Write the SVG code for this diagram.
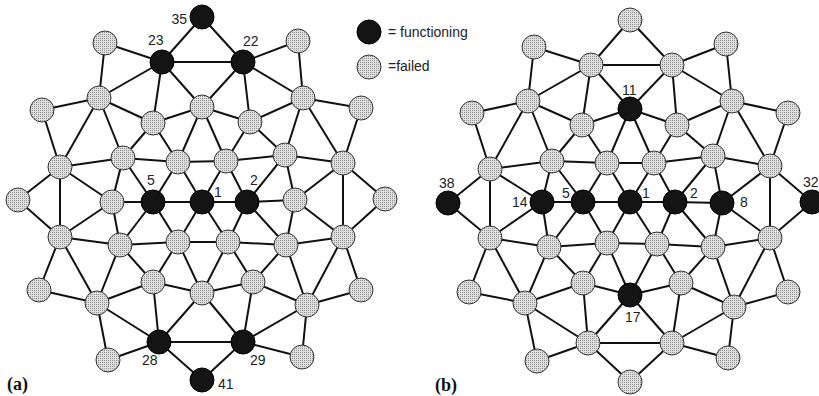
<svg xmlns="http://www.w3.org/2000/svg" width="819" height="396" viewBox="0 0 819 396">
<defs>
<pattern id="dots" width="2" height="2" patternUnits="userSpaceOnUse">
<rect width="2" height="2" fill="#dedede"/>
<rect width="1" height="1" fill="#959595"/>
</pattern>
</defs>
<style>
.e line{stroke:#111;stroke-width:2}
.g{fill:url(#dots);stroke:#333;stroke-width:1}
.b{fill:#141414;stroke:#000;stroke-width:1}
.l{font-family:"Liberation Sans",Arial,sans-serif;font-size:14px;fill:#222}
.p{font-family:"Liberation Serif","Times New Roman",serif;font-size:18px;font-weight:bold;fill:#111}
</style>
<rect width="819" height="396" fill="#fff"/>
<g id="connectors-a" class="e">
<line x1="202" y1="17" x2="162" y2="62"/><line x1="202" y1="17" x2="243" y2="62"/><line x1="162" y1="62" x2="243" y2="62"/><line x1="162" y1="62" x2="105" y2="43"/><line x1="162" y1="62" x2="99" y2="98"/><line x1="162" y1="62" x2="153" y2="123"/><line x1="162" y1="62" x2="202" y2="107"/><line x1="243" y1="62" x2="298" y2="41"/><line x1="243" y1="62" x2="303" y2="98"/><line x1="243" y1="62" x2="250" y2="122"/><line x1="243" y1="62" x2="202" y2="107"/><line x1="105" y1="43" x2="99" y2="98"/><line x1="298" y1="41" x2="303" y2="98"/><line x1="99" y1="98" x2="42" y2="110"/><line x1="99" y1="98" x2="153" y2="123"/><line x1="99" y1="98" x2="60" y2="167"/><line x1="99" y1="98" x2="123" y2="158"/><line x1="202" y1="107" x2="153" y2="123"/><line x1="202" y1="107" x2="250" y2="122"/><line x1="202" y1="107" x2="178" y2="162"/><line x1="202" y1="107" x2="226" y2="161"/><line x1="303" y1="98" x2="250" y2="122"/><line x1="303" y1="98" x2="361" y2="108"/><line x1="303" y1="98" x2="285" y2="155"/><line x1="303" y1="98" x2="343" y2="163"/><line x1="42" y1="110" x2="60" y2="167"/><line x1="361" y1="108" x2="343" y2="163"/><line x1="153" y1="123" x2="123" y2="158"/><line x1="153" y1="123" x2="178" y2="162"/><line x1="250" y1="122" x2="226" y2="161"/><line x1="250" y1="122" x2="285" y2="155"/><line x1="60" y1="167" x2="123" y2="158"/><line x1="123" y1="158" x2="178" y2="162"/><line x1="178" y1="162" x2="226" y2="161"/><line x1="226" y1="161" x2="285" y2="155"/><line x1="285" y1="155" x2="343" y2="163"/><line x1="60" y1="167" x2="18" y2="200"/><line x1="60" y1="167" x2="60" y2="237"/><line x1="60" y1="167" x2="112" y2="202"/><line x1="123" y1="158" x2="112" y2="202"/><line x1="123" y1="158" x2="153" y2="202"/><line x1="178" y1="162" x2="153" y2="202"/><line x1="178" y1="162" x2="202" y2="202"/><line x1="226" y1="161" x2="202" y2="202"/><line x1="226" y1="161" x2="247" y2="202"/><line x1="285" y1="155" x2="247" y2="202"/><line x1="285" y1="155" x2="295" y2="200"/><line x1="343" y1="163" x2="295" y2="200"/><line x1="343" y1="163" x2="385" y2="199"/><line x1="343" y1="163" x2="343" y2="237"/><line x1="18" y1="200" x2="60" y2="237"/><line x1="112" y1="202" x2="60" y2="237"/><line x1="112" y1="202" x2="153" y2="202"/><line x1="153" y1="202" x2="202" y2="202"/><line x1="202" y1="202" x2="247" y2="202"/><line x1="247" y1="202" x2="295" y2="200"/><line x1="295" y1="200" x2="343" y2="237"/><line x1="385" y1="199" x2="343" y2="237"/><line x1="60" y1="237" x2="120" y2="245"/><line x1="60" y1="237" x2="39" y2="290"/><line x1="60" y1="237" x2="97" y2="303"/><line x1="39" y1="290" x2="97" y2="303"/><line x1="112" y1="202" x2="120" y2="245"/><line x1="153" y1="202" x2="120" y2="245"/><line x1="153" y1="202" x2="178" y2="242"/><line x1="202" y1="202" x2="178" y2="242"/><line x1="202" y1="202" x2="228" y2="242"/><line x1="247" y1="202" x2="228" y2="242"/><line x1="247" y1="202" x2="286" y2="245"/><line x1="295" y1="200" x2="286" y2="245"/><line x1="120" y1="245" x2="178" y2="242"/><line x1="178" y1="242" x2="228" y2="242"/><line x1="228" y1="242" x2="286" y2="245"/><line x1="286" y1="245" x2="343" y2="237"/><line x1="120" y1="245" x2="97" y2="303"/><line x1="120" y1="245" x2="153" y2="282"/><line x1="178" y1="242" x2="153" y2="282"/><line x1="178" y1="242" x2="202" y2="293"/><line x1="228" y1="242" x2="202" y2="293"/><line x1="228" y1="242" x2="253" y2="282"/><line x1="286" y1="245" x2="253" y2="282"/><line x1="286" y1="245" x2="307" y2="305"/><line x1="343" y1="237" x2="307" y2="305"/><line x1="343" y1="237" x2="361" y2="290"/><line x1="307" y1="305" x2="361" y2="290"/><line x1="97" y1="303" x2="153" y2="282"/><line x1="153" y1="282" x2="202" y2="293"/><line x1="202" y1="293" x2="253" y2="282"/><line x1="253" y1="282" x2="307" y2="305"/><line x1="153" y1="282" x2="159" y2="342"/><line x1="97" y1="303" x2="159" y2="342"/><line x1="97" y1="303" x2="108" y2="360"/><line x1="108" y1="360" x2="159" y2="342"/><line x1="159" y1="342" x2="202" y2="380"/><line x1="159" y1="342" x2="243" y2="342"/><line x1="159" y1="342" x2="202" y2="293"/><line x1="253" y1="282" x2="243" y2="342"/><line x1="202" y1="293" x2="243" y2="342"/><line x1="307" y1="305" x2="243" y2="342"/><line x1="243" y1="342" x2="302" y2="357"/><line x1="307" y1="305" x2="302" y2="357"/><line x1="243" y1="342" x2="202" y2="380"/>
</g>
<g id="connectors-b" class="e">
<line x1="630" y1="20" x2="591" y2="65"/><line x1="630" y1="20" x2="672" y2="65"/><line x1="591" y1="65" x2="672" y2="65"/><line x1="591" y1="65" x2="534" y2="47"/><line x1="591" y1="65" x2="528" y2="101"/><line x1="591" y1="65" x2="582" y2="125"/><line x1="591" y1="65" x2="630" y2="109"/><line x1="672" y1="65" x2="726" y2="44"/><line x1="672" y1="65" x2="732" y2="101"/><line x1="672" y1="65" x2="677" y2="125"/><line x1="672" y1="65" x2="630" y2="109"/><line x1="534" y1="47" x2="528" y2="101"/><line x1="726" y1="44" x2="732" y2="101"/><line x1="528" y1="101" x2="472" y2="113"/><line x1="528" y1="101" x2="582" y2="125"/><line x1="528" y1="101" x2="490" y2="169"/><line x1="528" y1="101" x2="552" y2="161"/><line x1="630" y1="109" x2="582" y2="125"/><line x1="630" y1="109" x2="677" y2="125"/><line x1="630" y1="109" x2="607" y2="163"/><line x1="630" y1="109" x2="654" y2="163"/><line x1="732" y1="101" x2="677" y2="125"/><line x1="732" y1="101" x2="788" y2="113"/><line x1="732" y1="101" x2="713" y2="156"/><line x1="732" y1="101" x2="770" y2="166"/><line x1="472" y1="113" x2="490" y2="169"/><line x1="788" y1="113" x2="770" y2="166"/><line x1="582" y1="125" x2="552" y2="161"/><line x1="582" y1="125" x2="607" y2="163"/><line x1="677" y1="125" x2="654" y2="163"/><line x1="677" y1="125" x2="713" y2="156"/><line x1="490" y1="169" x2="552" y2="161"/><line x1="552" y1="161" x2="607" y2="163"/><line x1="607" y1="163" x2="654" y2="163"/><line x1="654" y1="163" x2="713" y2="156"/><line x1="713" y1="156" x2="770" y2="166"/><line x1="490" y1="169" x2="448" y2="203"/><line x1="490" y1="169" x2="490" y2="238"/><line x1="490" y1="169" x2="542" y2="202"/><line x1="552" y1="161" x2="542" y2="202"/><line x1="552" y1="161" x2="583" y2="202"/><line x1="607" y1="163" x2="583" y2="202"/><line x1="607" y1="163" x2="630" y2="202"/><line x1="654" y1="163" x2="630" y2="202"/><line x1="654" y1="163" x2="675" y2="202"/><line x1="713" y1="156" x2="675" y2="202"/><line x1="713" y1="156" x2="722" y2="203"/><line x1="770" y1="166" x2="722" y2="203"/><line x1="770" y1="166" x2="812" y2="202"/><line x1="770" y1="166" x2="770" y2="238"/><line x1="448" y1="203" x2="490" y2="238"/><line x1="542" y1="202" x2="490" y2="238"/><line x1="542" y1="202" x2="583" y2="202"/><line x1="583" y1="202" x2="630" y2="202"/><line x1="630" y1="202" x2="675" y2="202"/><line x1="675" y1="202" x2="722" y2="203"/><line x1="722" y1="203" x2="770" y2="238"/><line x1="812" y1="202" x2="770" y2="238"/><line x1="490" y1="238" x2="549" y2="247"/><line x1="490" y1="238" x2="469" y2="292"/><line x1="490" y1="238" x2="525" y2="303"/><line x1="469" y1="292" x2="525" y2="303"/><line x1="542" y1="202" x2="549" y2="247"/><line x1="583" y1="202" x2="549" y2="247"/><line x1="583" y1="202" x2="607" y2="243"/><line x1="630" y1="202" x2="607" y2="243"/><line x1="630" y1="202" x2="657" y2="244"/><line x1="675" y1="202" x2="657" y2="244"/><line x1="675" y1="202" x2="713" y2="247"/><line x1="722" y1="203" x2="713" y2="247"/><line x1="549" y1="247" x2="607" y2="243"/><line x1="607" y1="243" x2="657" y2="244"/><line x1="657" y1="244" x2="713" y2="247"/><line x1="713" y1="247" x2="770" y2="238"/><line x1="549" y1="247" x2="525" y2="303"/><line x1="549" y1="247" x2="583" y2="283"/><line x1="607" y1="243" x2="583" y2="283"/><line x1="607" y1="243" x2="630" y2="295"/><line x1="657" y1="244" x2="630" y2="295"/><line x1="657" y1="244" x2="681" y2="283"/><line x1="713" y1="247" x2="681" y2="283"/><line x1="713" y1="247" x2="734" y2="307"/><line x1="770" y1="238" x2="734" y2="307"/><line x1="770" y1="238" x2="788" y2="292"/><line x1="734" y1="307" x2="788" y2="292"/><line x1="525" y1="303" x2="583" y2="283"/><line x1="583" y1="283" x2="630" y2="295"/><line x1="630" y1="295" x2="681" y2="283"/><line x1="681" y1="283" x2="734" y2="307"/><line x1="583" y1="283" x2="588" y2="343"/><line x1="525" y1="303" x2="588" y2="343"/><line x1="525" y1="303" x2="537" y2="361"/><line x1="537" y1="361" x2="588" y2="343"/><line x1="588" y1="343" x2="630" y2="382"/><line x1="588" y1="343" x2="672" y2="343"/><line x1="588" y1="343" x2="630" y2="295"/><line x1="681" y1="283" x2="672" y2="343"/><line x1="630" y1="295" x2="672" y2="343"/><line x1="734" y1="307" x2="672" y2="343"/><line x1="672" y1="343" x2="728" y2="358"/><line x1="734" y1="307" x2="728" y2="358"/><line x1="672" y1="343" x2="630" y2="382"/>
</g>
<g id="nodes-a">
<g id="a35"><circle class="b" cx="202" cy="17" r="12"/><text class="l" x="187" y="24" text-anchor="end">35</text></g>
<g id="a23"><circle class="b" cx="162" cy="62" r="12"/><text class="l" x="148" y="45">23</text></g>
<g id="a22"><circle class="b" cx="243" cy="62" r="12"/><text class="l" x="243" y="46">22</text></g>
<g id="a-n4"><circle class="g" cx="105" cy="43" r="12"/></g>
<g id="a-n5"><circle class="g" cx="298" cy="41" r="12"/></g>
<g id="a-n6"><circle class="g" cx="99" cy="98" r="12"/></g>
<g id="a-n7"><circle class="g" cx="202" cy="107" r="12"/></g>
<g id="a-n8"><circle class="g" cx="303" cy="98" r="12"/></g>
<g id="a-n9"><circle class="g" cx="42" cy="110" r="12"/></g>
<g id="a-n10"><circle class="g" cx="153" cy="123" r="12"/></g>
<g id="a-n11"><circle class="g" cx="250" cy="122" r="12"/></g>
<g id="a-n12"><circle class="g" cx="361" cy="108" r="12"/></g>
<g id="a-n13"><circle class="g" cx="60" cy="167" r="12"/></g>
<g id="a-n14"><circle class="g" cx="123" cy="158" r="12"/></g>
<g id="a-n15"><circle class="g" cx="178" cy="162" r="12"/></g>
<g id="a-n16"><circle class="g" cx="226" cy="161" r="12"/></g>
<g id="a-n17"><circle class="g" cx="285" cy="155" r="12"/></g>
<g id="a-n18"><circle class="g" cx="343" cy="163" r="12"/></g>
<g id="a-n19"><circle class="g" cx="18" cy="200" r="12"/></g>
<g id="a-n20"><circle class="g" cx="112" cy="202" r="12"/></g>
<g id="a5"><circle class="b" cx="153" cy="202" r="12"/><text class="l" x="147" y="185">5</text></g>
<g id="a1"><circle class="b" cx="202" cy="202" r="12"/><text class="l" x="214" y="197">1</text></g>
<g id="a2"><circle class="b" cx="247" cy="202" r="12"/><text class="l" x="250" y="185">2</text></g>
<g id="a-n24"><circle class="g" cx="295" cy="200" r="12"/></g>
<g id="a-n25"><circle class="g" cx="385" cy="199" r="12"/></g>
<g id="a-n26"><circle class="g" cx="60" cy="237" r="12"/></g>
<g id="a-n27"><circle class="g" cx="120" cy="245" r="12"/></g>
<g id="a-n28"><circle class="g" cx="178" cy="242" r="12"/></g>
<g id="a-n29"><circle class="g" cx="228" cy="242" r="12"/></g>
<g id="a-n30"><circle class="g" cx="286" cy="245" r="12"/></g>
<g id="a-n31"><circle class="g" cx="343" cy="237" r="12"/></g>
<g id="a-n32"><circle class="g" cx="39" cy="290" r="12"/></g>
<g id="a-n33"><circle class="g" cx="97" cy="303" r="12"/></g>
<g id="a-n34"><circle class="g" cx="153" cy="282" r="12"/></g>
<g id="a-n35"><circle class="g" cx="202" cy="293" r="12"/></g>
<g id="a-n36"><circle class="g" cx="253" cy="282" r="12"/></g>
<g id="a-n37"><circle class="g" cx="307" cy="305" r="12"/></g>
<g id="a-n38"><circle class="g" cx="361" cy="290" r="12"/></g>
<g id="a28"><circle class="b" cx="159" cy="342" r="12"/><text class="l" x="142" y="365">28</text></g>
<g id="a29"><circle class="b" cx="243" cy="342" r="12"/><text class="l" x="250" y="365">29</text></g>
<g id="a-n41"><circle class="g" cx="108" cy="360" r="12"/></g>
<g id="a-n42"><circle class="g" cx="302" cy="357" r="12"/></g>
<g id="a41"><circle class="b" cx="202" cy="380" r="12"/><text class="l" x="218" y="389">41</text></g>
</g>
<g id="nodes-b">
<g id="b-n1"><circle class="g" cx="630" cy="20" r="12"/></g>
<g id="b-n2"><circle class="g" cx="591" cy="65" r="12"/></g>
<g id="b-n3"><circle class="g" cx="672" cy="65" r="12"/></g>
<g id="b-n4"><circle class="g" cx="534" cy="47" r="12"/></g>
<g id="b-n5"><circle class="g" cx="726" cy="44" r="12"/></g>
<g id="b-n6"><circle class="g" cx="528" cy="101" r="12"/></g>
<g id="b11"><circle class="b" cx="630" cy="109" r="12"/><text class="l" x="622" y="95">11</text></g>
<g id="b-n8"><circle class="g" cx="732" cy="101" r="12"/></g>
<g id="b-n9"><circle class="g" cx="472" cy="113" r="12"/></g>
<g id="b-n10"><circle class="g" cx="582" cy="125" r="12"/></g>
<g id="b-n11"><circle class="g" cx="677" cy="125" r="12"/></g>
<g id="b-n12"><circle class="g" cx="788" cy="113" r="12"/></g>
<g id="b-n13"><circle class="g" cx="490" cy="169" r="12"/></g>
<g id="b-n14"><circle class="g" cx="552" cy="161" r="12"/></g>
<g id="b-n15"><circle class="g" cx="607" cy="163" r="12"/></g>
<g id="b-n16"><circle class="g" cx="654" cy="163" r="12"/></g>
<g id="b-n17"><circle class="g" cx="713" cy="156" r="12"/></g>
<g id="b-n18"><circle class="g" cx="770" cy="166" r="12"/></g>
<g id="b38"><circle class="b" cx="448" cy="203" r="12"/><text class="l" x="439" y="188">38</text></g>
<g id="b14"><circle class="b" cx="542" cy="202" r="12"/><text class="l" x="512" y="207">14</text></g>
<g id="b5"><circle class="b" cx="583" cy="202" r="12"/><text class="l" x="562" y="198">5</text></g>
<g id="b1"><circle class="b" cx="630" cy="202" r="12"/><text class="l" x="642" y="198">1</text></g>
<g id="b2"><circle class="b" cx="675" cy="202" r="12"/><text class="l" x="690" y="198">2</text></g>
<g id="b8"><circle class="b" cx="722" cy="203" r="12"/><text class="l" x="740" y="207">8</text></g>
<g id="b32"><circle class="b" cx="812" cy="202" r="12"/><text class="l" x="803" y="187">32</text></g>
<g id="b-n26"><circle class="g" cx="490" cy="238" r="12"/></g>
<g id="b-n27"><circle class="g" cx="549" cy="247" r="12"/></g>
<g id="b-n28"><circle class="g" cx="607" cy="243" r="12"/></g>
<g id="b-n29"><circle class="g" cx="657" cy="244" r="12"/></g>
<g id="b-n30"><circle class="g" cx="713" cy="247" r="12"/></g>
<g id="b-n31"><circle class="g" cx="770" cy="238" r="12"/></g>
<g id="b-n32"><circle class="g" cx="469" cy="292" r="12"/></g>
<g id="b-n33"><circle class="g" cx="525" cy="303" r="12"/></g>
<g id="b-n34"><circle class="g" cx="583" cy="283" r="12"/></g>
<g id="b17"><circle class="b" cx="630" cy="295" r="12"/><text class="l" x="625" y="322">17</text></g>
<g id="b-n36"><circle class="g" cx="681" cy="283" r="12"/></g>
<g id="b-n37"><circle class="g" cx="734" cy="307" r="12"/></g>
<g id="b-n38"><circle class="g" cx="788" cy="292" r="12"/></g>
<g id="b-n39"><circle class="g" cx="588" cy="343" r="12"/></g>
<g id="b-n40"><circle class="g" cx="672" cy="343" r="12"/></g>
<g id="b-n41"><circle class="g" cx="537" cy="361" r="12"/></g>
<g id="b-n42"><circle class="g" cx="728" cy="358" r="12"/></g>
<g id="b-n43"><circle class="g" cx="630" cy="382" r="12"/></g>
</g>
<g id="legend">
<g id="legend-functioning"><circle class="b" cx="369" cy="32" r="12"/><text class="l" x="388" y="37">= functioning</text></g>
<g id="legend-failed"><circle class="g" cx="369" cy="67" r="12"/><text class="l" x="388" y="71">=failed</text></g>
</g>
<text class="p" x="7" y="390">(a)</text>
<text class="p" x="435" y="391">(b)</text>
</svg>
